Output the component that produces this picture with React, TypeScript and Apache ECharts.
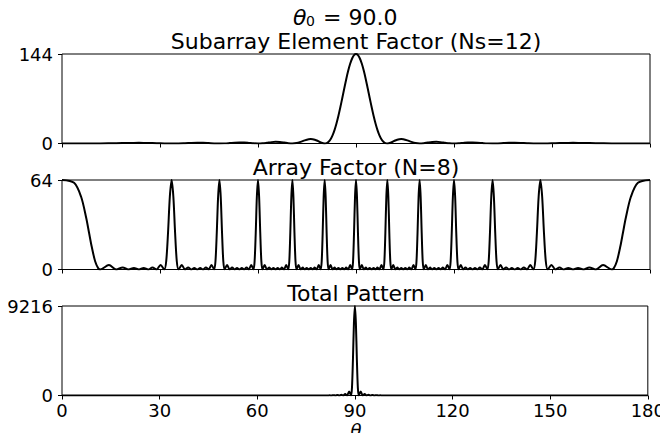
import React, { useEffect, useRef } from "react";
import * as echarts from "echarts";

const FONT = "DejaVu Sans";

const xTicks = [0, 30, 60, 90, 120, 150, 180];
const panelTitles = ["Subarray Element Factor (Ns=12)", "Array Factor (N=8)", "Total Pattern"];
const panelMax = [144, 64, 9216];
const steerAngle = "90.0";

// Subarray element factor (Ns=12)
const elementFactor: number[][] = [
  [0, 0], [11.72, 0.15], [16.6, 0.5], [20.36, 0.86], [23.56, 1.02], [26.38, 0.88], [28.96, 0.52], [31.33, 0.15],
  [33.56, 0], [35.66, 0.16], [37.66, 0.56], [39.57, 0.97], [41.41, 1.17], [43.18, 1.03], [44.9, 0.62], [46.57, 0.19],
  [48.19, 0], [49.77, 0.2], [51.32, 0.72], [52.83, 1.29], [54.31, 1.59], [55.77, 1.43], [57.2, 0.88], [58.61, 0.27],
  [60, 0], [61.37, 0.31], [62.72, 1.15], [64.06, 2.12], [65.38, 2.7], [66.68, 2.52], [67.98, 1.62], [69.26, 0.53],
  [70.53, 0], [71.79, 0.66], [73.04, 2.56], [74.29, 5.01], [75.52, 6.83], [76.14, 7.12], [76.75, 6.88], [77.98, 4.84], [79.19, 1.74],
  [80.41, 0], [81.01, 0.64], [81.61, 2.84], [82.22, 6.93], [82.82, 13.1], [83.42, 21.6], [84.02, 32.2], [84.62, 44.7],
  [85.22, 58.7], [85.82, 73.7], [86.42, 88.8], [87.01, 103.5], [87.61, 116.9], [88.21, 128.2], [88.81, 136.8], [89.4, 142.2],
  [90, 144],
  [90.6, 142.2], [91.19, 136.8], [91.79, 128.2], [92.39, 116.9], [92.99, 103.5], [93.58, 88.8], [94.18, 73.7], [94.78, 58.7],
  [95.38, 44.7], [95.98, 32.2], [96.58, 21.6], [97.18, 13.1], [97.78, 6.93], [98.39, 2.84], [98.99, 0.64], [99.59, 0],
  [100.81, 1.74], [102.02, 4.84], [103.25, 6.88], [103.86, 7.12], [104.48, 6.83], [105.71, 5.01], [106.96, 2.56], [108.21, 0.66],
  [109.47, 0], [110.74, 0.53], [112.02, 1.62], [113.32, 2.52], [114.62, 2.7], [115.94, 2.12], [117.28, 1.15], [118.63, 0.31],
  [120, 0], [121.39, 0.27], [122.8, 0.88], [124.23, 1.43], [125.69, 1.59], [127.17, 1.29], [128.68, 0.72], [130.23, 0.2],
  [131.81, 0], [133.43, 0.19], [135.1, 0.62], [136.82, 1.03], [138.59, 1.17], [140.43, 0.97], [142.34, 0.56], [144.34, 0.16],
  [146.44, 0], [148.67, 0.15], [151.04, 0.52], [153.62, 0.88], [156.44, 1.02], [159.64, 0.86], [163.4, 0.5], [168.28, 0.15],
  [180, 0],
];

// Array factor (N=8)
const arrayFactor: number[][] = [
  [0, 64], [3.7, 62], [5.85, 52], [7.4, 37], [8.28, 26.3], [9.07, 16.6], [10.14, 5.9], [11.11, 0.8], [11.72, 0],
  [14.36, 3.24], [16.6, 0], [18.57, 1.45], [20.36, 0], [22.02, 1.04], [23.56, 0], [25.01, 1.04], [26.38, 0],
  [27.7, 1.45], [28.96, 0], [30.17, 3.24], [31.33, 0],
  [31.9, 5.9], [32.46, 26.3], [33.01, 52], [33.56, 64], [34.09, 52], [34.62, 26.3], [35.14, 5.9], [35.66, 0],
  [36.67, 3.24], [37.66, 0], [38.63, 1.45], [39.57, 0], [40.5, 1.04], [41.41, 0], [42.3, 1.04], [43.18, 0],
  [44.05, 1.45], [44.9, 0], [45.74, 3.24], [46.57, 0],
  [46.98, 5.9], [47.38, 26.3], [47.79, 52], [48.19, 64], [48.59, 52], [48.99, 26.3], [49.38, 5.9], [49.77, 0],
  [50.55, 3.24], [51.32, 0], [52.08, 1.45], [52.83, 0], [53.58, 1.04], [54.31, 0], [55.05, 1.04], [55.77, 0],
  [56.49, 1.45], [57.2, 0], [57.91, 3.24], [58.61, 0],
  [58.96, 5.9], [59.31, 26.3], [59.65, 52], [60, 64], [60.34, 52], [60.69, 26.3], [61.03, 5.9], [61.37, 0],
  [62.05, 3.24], [62.72, 0], [63.39, 1.45], [64.06, 0], [64.72, 1.04], [65.38, 0], [66.03, 1.04], [66.68, 0],
  [67.33, 1.45], [67.98, 0], [68.62, 3.24], [69.26, 0],
  [69.58, 5.9], [69.89, 26.3], [70.21, 52], [70.53, 64], [70.84, 52], [71.16, 26.3], [71.48, 5.9], [71.79, 0],
  [72.42, 3.24], [73.04, 0], [73.67, 1.45], [74.29, 0], [74.91, 1.04], [75.52, 0], [76.14, 1.04], [76.75, 0],
  [77.36, 1.45], [77.98, 0], [78.58, 3.24], [79.19, 0],
  [79.5, 5.9], [79.8, 26.3], [80.1, 52], [80.41, 64], [80.71, 52], [81.01, 26.3], [81.31, 5.9], [81.61, 0],
  [82.22, 3.24], [82.82, 0], [83.42, 1.45], [84.02, 0], [84.62, 1.04], [85.22, 0], [85.82, 1.04], [86.42, 0],
  [87.01, 1.45], [87.61, 0], [88.21, 3.24], [88.81, 0],
  [89.1, 5.9], [89.4, 26.3], [89.7, 52], [90, 64], [90.3, 52], [90.6, 26.3], [90.9, 5.9], [91.19, 0],
  [91.79, 3.24], [92.39, 0], [92.99, 1.45], [93.58, 0], [94.18, 1.04], [94.78, 0], [95.38, 1.04], [95.98, 0],
  [96.58, 1.45], [97.18, 0], [97.78, 3.24], [98.39, 0],
  [98.69, 5.9], [98.99, 26.3], [99.29, 52], [99.59, 64], [99.9, 52], [100.2, 26.3], [100.5, 5.9], [100.81, 0],
  [101.42, 3.24], [102.02, 0], [102.64, 1.45], [103.25, 0], [103.86, 1.04], [104.48, 0], [105.09, 1.04], [105.71, 0],
  [106.33, 1.45], [106.96, 0], [107.58, 3.24], [108.21, 0],
  [108.52, 5.9], [108.84, 26.3], [109.16, 52], [109.47, 64], [109.79, 52], [110.11, 26.3], [110.42, 5.9], [110.74, 0],
  [111.38, 3.24], [112.02, 0], [112.67, 1.45], [113.32, 0], [113.97, 1.04], [114.62, 0], [115.28, 1.04], [115.94, 0],
  [116.61, 1.45], [117.28, 0], [117.95, 3.24], [118.63, 0],
  [118.97, 5.9], [119.31, 26.3], [119.66, 52], [120, 64], [120.35, 52], [120.69, 26.3], [121.04, 5.9], [121.39, 0],
  [122.09, 3.24], [122.8, 0], [123.51, 1.45], [124.23, 0], [124.95, 1.04], [125.69, 0], [126.42, 1.04], [127.17, 0],
  [127.92, 1.45], [128.68, 0], [129.45, 3.24], [130.23, 0],
  [130.62, 5.9], [131.01, 26.3], [131.41, 52], [131.81, 64], [132.21, 52], [132.62, 26.3], [133.02, 5.9], [133.43, 0],
  [134.26, 3.24], [135.1, 0], [135.95, 1.45], [136.82, 0], [137.7, 1.04], [138.59, 0], [139.5, 1.04], [140.43, 0],
  [141.37, 1.45], [142.34, 0], [143.33, 3.24], [144.34, 0],
  [144.86, 5.9], [145.38, 26.3], [145.91, 52], [146.44, 64], [146.99, 52], [147.54, 26.3], [148.1, 5.9], [148.67, 0],
  [149.83, 3.24], [151.04, 0], [152.3, 1.45], [153.62, 0], [154.99, 1.04], [156.44, 0], [157.98, 1.04], [159.64, 0],
  [161.43, 1.45], [163.4, 0], [165.64, 3.24], [168.28, 0],
  [168.89, 0.8], [169.86, 5.9], [170.93, 16.6], [171.72, 26.3], [172.6, 37], [174.15, 52], [176.3, 62], [180, 64],
];

// Total pattern
const totalPattern: number[][] = [
  [0, 0], [80.41, 0], [81.61, 0], [82.22, 22], [82.82, 0], [83.42, 31], [84.02, 0], [84.62, 47], [85.22, 0],
  [85.82, 77], [86.42, 0], [87.01, 150], [87.61, 0], [88.21, 415], [88.81, 0], [89.1, 830], [89.4, 3740], [89.7, 7462],
  [90, 9216],
  [90.3, 7462], [90.6, 3740], [90.9, 830], [91.19, 0], [91.79, 415], [92.39, 0], [92.99, 150], [93.58, 0], [94.18, 77],
  [94.78, 0], [95.38, 47], [95.98, 0], [96.58, 31], [97.18, 0], [97.78, 22], [98.39, 0], [99.59, 0], [180, 0],
];

const panelData = [elementFactor, arrayFactor, totalPattern];

const GRID_LEFT = 62;
const GRID_WIDTH = 588;
const GRID_TOPS = [54, 180, 306];
const GRID_HEIGHT = 89.5;

export default function App() {
  const ref = useRef<HTMLDivElement>(null);

  useEffect(() => {
    if (!ref.current) return;
    const chart = echarts.init(ref.current, undefined, { renderer: "svg" });

    const grid = GRID_TOPS.map((top) => ({
      left: GRID_LEFT,
      top,
      width: GRID_WIDTH,
      height: GRID_HEIGHT,
      show: true,
      borderColor: "#000",
      borderWidth: 1,
      backgroundColor: "transparent",
      containLabel: false,
    }));

    const xAxis = GRID_TOPS.map((_, i) => ({
      type: "value",
      gridIndex: i,
      min: xTicks[0],
      max: xTicks[xTicks.length - 1],
      interval: xTicks[1] - xTicks[0],
      axisLine: { show: false },
      axisTick: { show: true, length: 4, lineStyle: { color: "#000", width: 1 } },
      splitLine: { show: false },
      axisLabel: {
        show: i === 2,
        fontSize: 18,
        fontFamily: FONT,
        color: "#000",
        margin: 8,
        lineHeight: 14,
        formatter: (v: number) => String(v),
      },
    }));

    const yAxis = panelMax.map((m, i) => ({
      type: "value",
      gridIndex: i,
      min: 0,
      max: m,
      interval: m,
      axisLine: { show: false },
      axisTick: { show: true, length: 4, lineStyle: { color: "#000", width: 1 } },
      splitLine: { show: false },
      axisLabel: {
        fontSize: 18,
        fontFamily: FONT,
        color: "#000",
        margin: 9,
        padding: [3, 0, 0, 0],
        formatter: (v: number) => String(v),
      },
    }));

    const series = panelData.map((d, i) => ({
      type: "line",
      xAxisIndex: i,
      yAxisIndex: i,
      data: d,
      showSymbol: false,
      smooth: 0.3,
      lineStyle: { color: "#000", width: 2 },
      silent: true,
    }));

    const titleText = panelTitles.map((t, i) => ({
      type: "text",
      x: GRID_LEFT + GRID_WIDTH / 2,
      y: GRID_TOPS[i] - 13,
      style: {
        text: t,
        fontSize: 22,
        lineHeight: 19,
        fontFamily: FONT,
        fill: "#000",
        textAlign: "center",
        textVerticalAlign: "middle",
      },
    }));

    const graphic = [
      ...titleText,
      {
        type: "text",
        x: 293,
        y: 17.5,
        style: { text: "θ", fontSize: 22, lineHeight: 18, fontFamily: FONT, fontStyle: "italic", fill: "#000", textAlign: "left", textVerticalAlign: "middle" },
      },
      {
        type: "text",
        x: 306,
        y: 21,
        style: { text: "0", fontSize: 14, lineHeight: 11, fontFamily: FONT, fill: "#000", textAlign: "left", textVerticalAlign: "middle" },
      },
      {
        type: "text",
        x: 323,
        y: 17.5,
        style: { text: "= " + steerAngle, fontSize: 22, lineHeight: 18, fontFamily: FONT, fill: "#000", textAlign: "left", textVerticalAlign: "middle" },
      },
      {
        type: "text",
        x: GRID_LEFT + GRID_WIDTH / 2,
        y: 430,
        style: { text: "θ", fontSize: 18, lineHeight: 16, fontFamily: FONT, fontStyle: "italic", fill: "#000", textAlign: "center", textVerticalAlign: "middle" },
      },
    ];

    chart.setOption({
      animation: false,
      textStyle: { fontFamily: FONT },
      grid,
      xAxis,
      yAxis,
      series,
      graphic,
    } as any);

    return () => chart.dispose();
  }, []);

  return <div ref={ref} style={{ width: 668, height: 441, margin: -8 }} />;
}
